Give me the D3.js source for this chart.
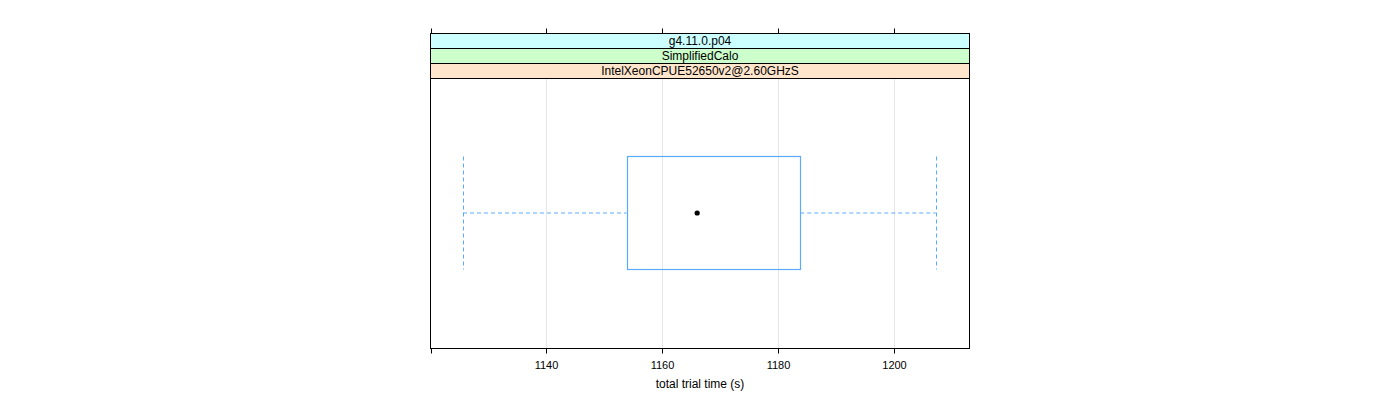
<!DOCTYPE html>
<html><head><meta charset="utf-8">
<script src="https://cdn.jsdelivr.net/npm/d3@7"></script>
<style>body{margin:0;background:#fff}svg{display:block}text{font-family:"Liberation Sans",Arial,sans-serif}</style>
</head><body><svg id="c" width="1400" height="400"></svg>
<script>
const strips = ["g4.11.0.p04", "SimplifiedCalo", "IntelXeonCPUE52650v2@2.60GHzS"];
const stripColors = ["#ccffff", "#ccffcc", "#ffe5cc"];
const tickValues = [1120.2, 1140, 1160, 1180, 1200];
const tickLabels = ["", "1140", "1160", "1180", "1200"];
const xDomain = [1120.06, 1213.12];
const stats = {min: 1125.67, q1: 1153.9, median: 1166.1, q3: 1183.9, max: 1207.3};
const xLabel = "total trial time (s)";

const svg = d3.select("#c");
const L = 430.5, R = 969.5, T = 33.5, stripH = 15, B = 348.5;
const panelTop = T + strips.length * stripH;
const x = d3.scaleLinear().domain(xDomain).range([L, R]);
const px = v => Math.round(x(v)) + 0.5;

// grid
svg.append("g").selectAll("line").data(tickValues.slice(1)).join("line")
  .attr("x1", d => px(d)).attr("x2", d => px(d))
  .attr("y1", panelTop).attr("y2", B).attr("stroke", "#e6e6e6").attr("stroke-width", 1);

// strips
strips.forEach((s, i) => {
  const y0 = T + i * stripH;
  svg.append("rect").attr("x", L).attr("y", y0).attr("width", R - L).attr("height", stripH)
    .attr("fill", stripColors[i]).attr("stroke", "#000").attr("stroke-width", 1);
  svg.append("text").attr("x", (L + R) / 2).attr("y", y0 + 11.5).attr("text-anchor", "middle")
    .attr("font-size", 12).attr("fill", "#000").text(s);
});

// panel border
svg.append("rect").attr("x", L).attr("y", panelTop).attr("width", R - L).attr("height", B - panelTop)
  .attr("fill", "none").attr("stroke", "#000").attr("stroke-width", 1);

// axes
const axB = d3.axisBottom(x).tickValues(tickValues).tickFormat((d, i) => tickLabels[i]).tickSize(5).tickPadding(8).offset(0);
const axT = d3.axisTop(x).tickValues(tickValues).tickFormat("").tickSize(5).offset(0);
const gB = svg.append("g").attr("transform", `translate(0,${B})`).call(axB);
const gT = svg.append("g").attr("transform", `translate(0,${T})`).call(axT);
[gB, gT].forEach(g => {
  g.select(".domain").remove();
  g.selectAll(".tick").attr("transform", d => `translate(${px(d)},0)`);
  g.selectAll("line").attr("stroke", "#000");
});
gB.selectAll("text").attr("font-size", 11).attr("fill", "#000").attr("font-family", '"Liberation Sans",Arial,sans-serif');

// box
const yc = 213, bh = 56.5;
const col = "#5aabff";
svg.append("line").attr("x1", x(stats.min)).attr("x2", x(stats.q1)).attr("y1", yc).attr("y2", yc)
  .attr("stroke", col).attr("stroke-dasharray", "4,3");
svg.append("line").attr("x1", x(stats.q3)).attr("x2", x(stats.max)).attr("y1", yc).attr("y2", yc)
  .attr("stroke", col).attr("stroke-dasharray", "4,3");
[stats.min, stats.max].forEach(v => {
  svg.append("line").attr("x1", px(v)).attr("x2", px(v))
    .attr("y1", yc - bh).attr("y2", yc + bh).attr("stroke", col).attr("stroke-dasharray", "4,3");
});
svg.append("rect").attr("x", px(stats.q1)).attr("y", yc - bh)
  .attr("width", px(stats.q3) - px(stats.q1)).attr("height", 2 * bh)
  .attr("fill", "none").attr("stroke", col).attr("stroke-width", 1.2);
svg.append("circle").attr("cx", x(stats.median)).attr("cy", yc).attr("r", 2.6).attr("fill", "#000");

svg.append("text").attr("x", (L + R) / 2).attr("y", 388).attr("text-anchor", "middle")
  .attr("font-size", 12).attr("fill", "#000").text(xLabel);
</script></body></html>
